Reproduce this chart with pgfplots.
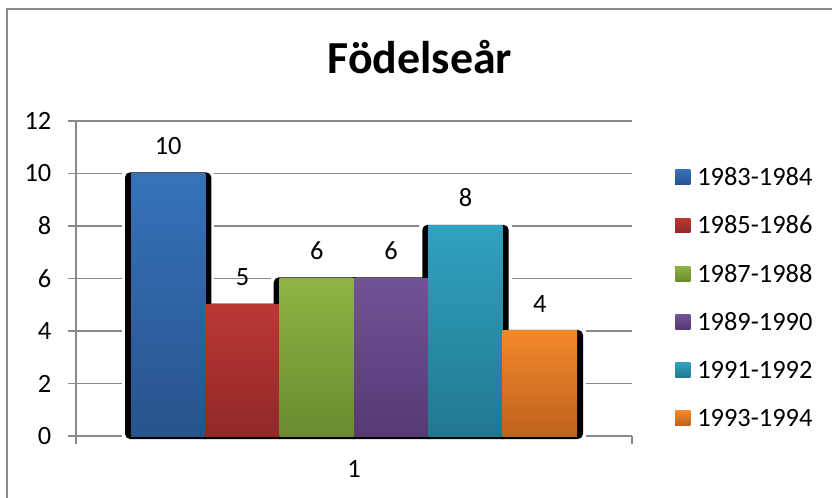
\documentclass[border=0pt]{standalone}
\usepackage{fontspec}
\setmainfont{Carlito}
\usepackage{pgfplots}
\pgfplotsset{compat=1.18}

\definecolor{gridgray}{RGB}{137,137,137}
\definecolor{framegray}{RGB}{140,140,140}
\definecolor{blueT}{RGB}{54,114,186}   \definecolor{blueB}{RGB}{40,83,140}
\definecolor{redT}{RGB}{186,56,52}     \definecolor{redB}{RGB}{145,40,40}
\definecolor{greenT}{RGB}{142,180,66}  \definecolor{greenB}{RGB}{108,138,48}
\definecolor{purpT}{RGB}{114,82,152}   \definecolor{purpB}{RGB}{85,58,115}
\definecolor{tealT}{RGB}{48,162,192}   \definecolor{tealB}{RGB}{33,120,143}
\definecolor{orT}{RGB}{242,136,42}     \definecolor{orB}{RGB}{190,98,28}

\newcommand{\lblfont}{\fontsize{19.8}{24}\selectfont}

\pgfplotsset{
  halo/.style={ybar, forget plot, bar width=60.25pt, fill=white, draw=white, line width=9pt, bar shift=#1},
  shadow/.style={ybar, forget plot, bar width=60.25pt, fill=black, draw=black, line width=4.5pt, rounded corners=2pt, bar shift=#1},
  barsty/.style={ybar, bar width=55.75pt, draw=none, bar shift=#1, nodes near coords,
    every node near coord/.append style={xshift=#1},
    legend image code/.code={\fill[##1] (0pt,-4.25pt) rectangle (11.25pt,6.75pt);}},
}

\begin{document}
\begin{tikzpicture}
\useasboundingbox (0,0) rectangle (624pt,372.75pt);
\draw[framegray, line width=1.5pt] (5.25pt,-10pt) -- (5.25pt,366pt) -- (640pt,366pt);
\node[anchor=base, font=\fontsize{34.4}{41}\selectfont\bfseries] at (315pt,317.25pt) {Födelseår};
\begin{axis}[
  at={(57pt,45.75pt)}, anchor=south west,
  scale only axis, width=417pt, height=236.4pt,
  xmin=0.5, xmax=1.5, ymin=0, ymax=12,
  clip=false,
  axis lines=left, axis line style={-, gridgray, line width=1.1pt},
  ytick={0,2,...,12},
  xtick={0.5,1.5}, xticklabels={},
  extra x ticks={1}, extra x tick labels={1},
  extra x tick style={major tick length=0pt, xticklabel style={yshift=-15pt}},
  tick align=outside, major tick length=6pt,
  tick style={gridgray, line width=1.1pt},
  ymajorgrids, grid style={gridgray, line width=1.1pt},
  tick label style={font=\lblfont},
  yticklabel style={xshift=-9pt},
  /pgf/number format/assume math mode=true,
  every node near coord/.append style={font=\lblfont, inner sep=0pt, yshift=13.9pt},
  legend style={at={(1.0773,0.8544)}, anchor=north west, draw=none, fill=none,
    font=\lblfont, inner sep=0pt, row sep=18.15pt, column sep=5.25pt,
    nodes={inner sep=0pt, text height=14pt, text depth=4pt}},
  legend cell align=left,
]
% white halo round the shadows
\addplot[halo=-139.375pt] coordinates {(1,9.924)};
\addplot[halo=-83.625pt]  coordinates {(1,4.924)};
\addplot[halo=-27.875pt]  coordinates {(1,5.924)};
\addplot[halo=27.875pt]   coordinates {(1,5.924)};
\addplot[halo=83.625pt]   coordinates {(1,7.924)};
\addplot[halo=139.375pt]  coordinates {(1,3.924)};
% black shadows
\addplot[shadow=-139.375pt] coordinates {(1,9.924)};
\addplot[shadow=-83.625pt]  coordinates {(1,4.924)};
\addplot[shadow=-27.875pt]  coordinates {(1,5.924)};
\addplot[shadow=27.875pt]   coordinates {(1,5.924)};
\addplot[shadow=83.625pt]   coordinates {(1,7.924)};
\addplot[shadow=139.375pt]  coordinates {(1,3.924)};
% bars
\addplot[barsty=-139.375pt, top color=blueT, bottom color=blueB] coordinates {(1,10)};
\addplot[barsty=-83.625pt, top color=redT, bottom color=redB] coordinates {(1,5)};
\addplot[barsty=-27.875pt, top color=greenT, bottom color=greenB] coordinates {(1,6)};
\addplot[barsty=27.875pt, top color=purpT, bottom color=purpB] coordinates {(1,6)};
\addplot[barsty=83.625pt, top color=tealT, bottom color=tealB] coordinates {(1,8)};
\addplot[barsty=139.375pt, top color=orT, bottom color=orB] coordinates {(1,4)};
\legend{1983-1984,1985-1986,1987-1988,1989-1990,1991-1992,1993-1994}
\end{axis}
\end{tikzpicture}
\end{document}
